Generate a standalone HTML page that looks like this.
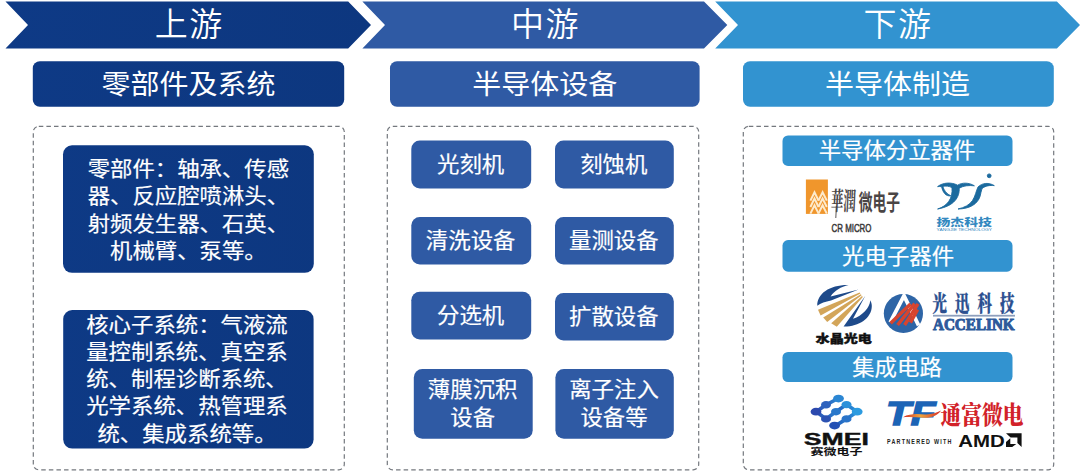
<!DOCTYPE html>
<html lang="zh-CN">
<head>
<meta charset="utf-8">
<title>半导体设备产业链</title>
<style>
*{box-sizing:border-box;margin:0;padding:0}
html,body{width:1080px;height:474px;overflow:hidden;background:#fff}
body{position:relative;font-family:"Liberation Sans","Noto Sans CJK SC",sans-serif;color:#fff}
#bg,#logos{position:absolute;left:0;top:0;width:1080px;height:474px}
.t{position:absolute;text-align:center;white-space:nowrap;transform-origin:50% 50%}
.ttl{font-weight:350}
.hdr{font-weight:400}
.b{font-weight:400;-webkit-text-stroke:0.2px #fff}
.sb{font-weight:400;-webkit-text-stroke:0.2px #fff}
</style>
</head>
<body>
<svg id="bg" viewBox="0 0 1080 474">
  <defs>
    <linearGradient id="g1" gradientUnits="userSpaceOnUse" x1="0" x2="380" y1="0" y2="0"><stop offset="0" stop-color="#0e3a86"/><stop offset="1" stop-color="#0d377f"/></linearGradient>
  </defs>
    <polygon points="5.5,1.4 348.2,1.4 371,25 348.2,48.5 5.5,48.5 28,25" fill="url(#g1)"/>
  <polygon points="362.4,1.4 704,1.4 727.3,25 704,48.5 362.4,48.5 385,25" fill="#2f5aa4"/>
  <polygon points="715.2,1.4 1056.9,1.4 1080,25 1056.9,48.5 715.2,48.5 738,25" fill="#3293d0"/>
  <rect x="32.8" y="61.3" width="311.4" height="45.5" rx="7" ry="7" fill="url(#g1)"/>
  <rect x="390" y="61.3" width="309.6" height="45.5" rx="7" ry="7" fill="#2f5aa4"/>
  <rect x="743" y="61.3" width="310.8" height="45.5" rx="7" ry="7" fill="#3293d0"/>
  <g fill="none" stroke="#74787e" stroke-width="1.2" stroke-dasharray="4.5 3.1">
    <rect x="33.3" y="126.3" width="311" height="343.5" rx="5.5" ry="5.5"/>
    <rect x="387.3" y="126.3" width="311.4" height="343.5" rx="5.5" ry="5.5"/>
    <rect x="743.3" y="126.3" width="310.4" height="343.5" rx="5.5" ry="5.5"/>
  </g>
  <rect x="63" y="145.3" width="250.8" height="127.5" rx="9" ry="9" fill="url(#g1)"/>
  <rect x="63.2" y="310" width="250.4" height="138.6" rx="9" ry="9" fill="url(#g1)"/>
  <rect x="411.3" y="140.5" width="119.9" height="48.0" rx="8.5" ry="8.5" fill="#2f5aa4"/>
  <rect x="555" y="140.5" width="118.8" height="48.0" rx="8.5" ry="8.5" fill="#2f5aa4"/>
  <rect x="411.3" y="217" width="119.9" height="47.4" rx="8.5" ry="8.5" fill="#2f5aa4"/>
  <rect x="555" y="217" width="118.8" height="47.4" rx="8.5" ry="8.5" fill="#2f5aa4"/>
  <rect x="411.3" y="291.8" width="119.9" height="47.6" rx="8.5" ry="8.5" fill="#2f5aa4"/>
  <rect x="555" y="293" width="118.8" height="47.5" rx="8.5" ry="8.5" fill="#2f5aa4"/>
  <rect x="413.8" y="369" width="118.9" height="69.8" rx="8.5" ry="8.5" fill="#2f5aa4"/>
  <rect x="555.4" y="369" width="118.4" height="69.8" rx="8.5" ry="8.5" fill="#2f5aa4"/>
  <rect x="782.5" y="135.5" width="230.0" height="30.4" rx="5.5" ry="5.5" fill="#3293d0"/>
  <rect x="782.5" y="240.1" width="230.0" height="31.6" rx="5.5" ry="5.5" fill="#3293d0"/>
  <rect x="782.5" y="352" width="230.0" height="30" rx="5.5" ry="5.5" fill="#3293d0"/>
</svg>
<div class="t ttl" style="left:-11px;top:3px;width:400px;height:43px;font-size:33px;line-height:43px;transform:translate(0.3px,0.2px) scaleY(1.0);letter-spacing:1.5px;">上游</div>
<div class="t ttl" style="left:345px;top:3px;width:400px;height:43px;font-size:33px;line-height:43px;transform:translate(0.6px,0.2px) scaleY(1.0);letter-spacing:1.5px;">中游</div>
<div class="t ttl" style="left:698px;top:3px;width:400px;height:43px;font-size:33px;line-height:43px;transform:translate(0.1px,0.2px) scaleY(1.0);letter-spacing:1.5px;">下游</div>
<div class="t hdr" style="left:-12px;top:65px;width:400px;height:38px;font-size:29px;line-height:38px;transform:translate(0.5px,0.7px) scaleY(0.96);letter-spacing:0px;">零部件及系统</div>
<div class="t hdr" style="left:344px;top:65px;width:400px;height:38px;font-size:29px;line-height:38px;transform:translate(0.8px,0.7px) scaleY(0.96);letter-spacing:0px;">半导体设备</div>
<div class="t hdr" style="left:697px;top:65px;width:400px;height:38px;font-size:29px;line-height:38px;transform:translate(0.5px,0.7px) scaleY(0.96);letter-spacing:0px;">半导体制造</div>
<div class="t b" style="left:-12px;top:151px;width:400px;height:117.2px;font-size:22.4px;line-height:29.3px;transform:translate(0.4px,0.2px) scaleY(0.935);">零部件：轴承、传感<br>器、反应腔喷淋头、<br>射频发生器、石英、<br>机械臂、泵等。</div>
<div class="t b" style="left:-13px;top:306px;width:400px;height:145.75px;font-size:22.4px;line-height:29.15px;transform:translate(0.0px,0.62px) scaleY(0.935);">核心子系统：气液流<br>量控制系统、真空系<br>统、制程诊断系统、<br>光学系统、热管理系<br>统、集成系统等。</div>
<div class="t b" style="left:270px;top:150px;width:400px;height:30px;font-size:22.4px;line-height:30px;transform:translate(0.65px,0.4px) scaleY(0.94);">光刻机</div>
<div class="t b" style="left:413px;top:150px;width:400px;height:30px;font-size:22.4px;line-height:30px;transform:translate(0.8px,0.4px) scaleY(0.94);">刻蚀机</div>
<div class="t b" style="left:270px;top:226px;width:400px;height:30px;font-size:22.4px;line-height:30px;transform:translate(0.65px,0.6px) scaleY(0.94);">清洗设备</div>
<div class="t b" style="left:413px;top:226px;width:400px;height:30px;font-size:22.4px;line-height:30px;transform:translate(0.8px,0.6px) scaleY(0.94);">量测设备</div>
<div class="t b" style="left:270px;top:301px;width:400px;height:30px;font-size:22.4px;line-height:30px;transform:translate(0.65px,0.5px) scaleY(0.94);">分选机</div>
<div class="t b" style="left:413px;top:302px;width:400px;height:30px;font-size:22.4px;line-height:30px;transform:translate(0.8px,0.65px) scaleY(0.94);">扩散设备</div>
<div class="t b" style="left:272px;top:374px;width:400px;height:58px;font-size:22.4px;line-height:29px;transform:translate(0.65px,0.9px) scaleY(0.94);">薄膜沉积<br>设备</div>
<div class="t b" style="left:413px;top:374px;width:400px;height:58px;font-size:22.4px;line-height:29px;transform:translate(1.0px,0.9px) scaleY(0.94);">离子注入<br>设备等</div>
<div class="t sb" style="left:697px;top:136px;width:400px;height:29px;font-size:22.4px;line-height:29px;transform:translate(0.0px,0.9px) scaleY(0.94);">半导体分立器件</div>
<div class="t sb" style="left:698px;top:242px;width:400px;height:29px;font-size:22.4px;line-height:29px;transform:translate(0.1px,0.1px) scaleY(0.94);">光电子器件</div>
<div class="t sb" style="left:697px;top:353px;width:400px;height:29px;font-size:22.4px;line-height:29px;transform:translate(0.0px,0.2px) scaleY(0.94);">集成电路</div>
<svg id="logos" viewBox="0 0 1080 474">
  <!-- CR MICRO -->
  <g>
    <rect x="805.9" y="179.5" width="22" height="34.4" fill="#f0962c"/>
    <g fill="none" stroke="#fdeacc" stroke-width="2" stroke-linejoin="miter">
      <polyline points="810.4,200.6 814.5,192.2 818.6,200.6"/>
      <polyline points="810.4,207 814.5,198.6 818.6,207"/>
      <polyline points="810.4,213.6 814.5,205.2 818.6,213.6"/>
      <polyline points="818.4,200.6 822.6,192.2 826.8,200.6"/>
      <polyline points="818.4,207 822.6,198.6 826.8,207"/>
      <polyline points="818.4,213.6 822.6,205.2 826.8,213.6"/>
    </g>
    <text transform="translate(830.6,209.8) scale(1,1.95) skewX(-5)" font-family="'Liberation Serif','Noto Serif CJK SC',serif" font-weight="700" font-size="13" fill="#4a4545" textLength="25" lengthAdjust="spacingAndGlyphs">華潤</text>
    <line x1="836.4" y1="206" x2="835.8" y2="218" stroke="#4a4545" stroke-width="0.9"/>
    <text transform="translate(858.8,209.9) scale(1,1.55)" font-family="'Liberation Sans','Noto Sans CJK SC',sans-serif" font-weight="700" font-size="14" fill="#4a4545" textLength="41.3" lengthAdjust="spacingAndGlyphs">微电子</text>
    <text x="831.6" y="232" font-family="'Liberation Sans',sans-serif" font-size="11.3" fill="#3a3838" stroke="#3a3838" stroke-width="0.5" textLength="39.8" lengthAdjust="spacingAndGlyphs">CR MICRO</text>
  </g>
  <!-- YANGJIE -->
  <g fill="#1b6a9e" stroke="#1b6a9e" stroke-width="0.9" stroke-linejoin="round">
    <circle cx="989.2" cy="175.8" r="1.9"/>
    <path d="M937.6,186.6 C943,182.3 951.5,182 957.6,185.2 C962,182.4 969,182.4 974.4,185.8 C969,185.2 963.5,185.6 959.2,188.2 C959.6,197 954.5,206 937.6,209 C947.5,206 953,198.5 952,187.6 C949,186 945.5,185.8 942.8,186.4 C943.8,190 946.5,194 950.8,195.8 C946,196.6 942.8,192.6 941.6,186.7 C940.2,186.5 939,186.5 937.6,186.6 Z"/>
    <path d="M994.3,185.6 C989,182.4 982.5,182.6 978,187 C976,191 975.5,196 972.5,200.5 C969.5,205 964.5,207.5 958,209 C970,208.8 977.5,204 980,196.5 C981,193.5 981,191 982,188.6 C985.5,185.6 990,185.2 994.3,185.6 Z"/>
    <text x="936.5" y="226" font-family="'Liberation Sans','Noto Sans CJK SC',sans-serif" font-weight="900" font-size="10" fill="#3489c0" stroke="none" textLength="55.5" lengthAdjust="spacingAndGlyphs">扬杰科技</text>
    <text x="936.6" y="231.3" font-family="'Liberation Sans',sans-serif" font-size="4.2" fill="#2f85bd" stroke="none" textLength="55.4" lengthAdjust="spacingAndGlyphs">YANGJIE TECHNOLOGY</text>
  </g>
  <!-- Crystal-Optech -->
  <g>
    <path d="M817.3,305.8 C817,293.5 830,284.6 848.6,285 C841,286.8 834.5,290.5 830.6,296.4 L858.6,289.4 L831,300.6 C825.5,301.6 820.5,303.4 817.3,305.8 Z" fill="#1e4a8a"/>
    <g fill="#d3a559">
      <polygon points="859.6,292.4 860.4,293.6 820.6,315.6 818,309.8"/>
      <polygon points="860.8,294.2 861.6,295.3 827.2,321.9 823.2,317.6"/>
      <polygon points="862,296 862.8,297 836.8,326.7 831.2,323.2"/>
    </g>
    <path d="M865.2,296 L843.6,326.6 C858,327 871.8,318.5 871.8,306 C871.8,304 871.2,302 870.3,300.2 C869.6,308 862.5,315.5 853,318.8 Z" fill="#1e4a8a"/>
    <text x="815.8" y="342.9" font-family="'Liberation Sans','Noto Sans CJK SC',sans-serif" font-weight="900" font-size="11.5" fill="#111" stroke="#111" stroke-width="0.45" textLength="56" lengthAdjust="spacingAndGlyphs">水晶光电</text>
  </g>
  <!-- Accelink -->
  <g>
    <circle cx="903.4" cy="313.5" r="19.6" fill="#2e65a6"/>
    <path d="M890.2,322.3 L904,295.8 L918.6,325.4" fill="none" stroke="#fff" stroke-width="3.8" stroke-linejoin="miter"/>
    <g stroke="#d8442e" stroke-width="3.4" fill="none">
      <line x1="890.6" y1="323.2" x2="910.5" y2="304"/>
      <line x1="897.6" y1="325" x2="914.6" y2="303.6"/>
      <line x1="904.6" y1="325" x2="918" y2="303.8"/>
      <line x1="910.4" y1="322.6" x2="917.6" y2="309.6"/>
    </g>
    <text transform="translate(932.4,310.6) scale(0.74,1.1)" font-family="'Liberation Serif','Noto Serif CJK SC',serif" font-weight="900" font-size="19.5" fill="#2b4f90" stroke="#2b4f90" stroke-width="0.3" letter-spacing="11">光迅科技</text>
    <rect x="933" y="314.8" width="82" height="1.8" fill="#8e9fbd"/>
    <text x="933" y="329.8" font-family="'Liberation Serif',serif" font-weight="700" font-size="16" fill="#2d5a9b" stroke="#2d5a9b" stroke-width="1" textLength="81.6" lengthAdjust="spacingAndGlyphs">ACCELINK</text>
  </g>
  <!-- SMEI -->
  <g>
    <defs>
      <linearGradient id="sm1" gradientUnits="userSpaceOnUse" x1="812" x2="840" y1="0" y2="0"><stop offset="0" stop-color="#2c4bb0"/><stop offset="1" stop-color="#2b86d3"/></linearGradient>
      <linearGradient id="sm2" gradientUnits="userSpaceOnUse" x1="832" x2="862" y1="0" y2="0"><stop offset="0" stop-color="#2157b8"/><stop offset="1" stop-color="#2c9be0"/></linearGradient>
    </defs>
    <g fill="none" stroke-linecap="round" stroke-linejoin="round" stroke-width="3.6">
      <polyline points="838,398.5 826,404.8 816.3,411.7 826,418.9 836,411.7" stroke="url(#sm1)"/>
      <polyline points="835,426 846.5,418.9 857.2,411.7 846.5,404.6 836,411.7" stroke="url(#sm2)"/>
    </g>
    <g>
      <ellipse cx="838.5" cy="398.6" rx="5.4" ry="3.9" fill="#2b86d3"/>
      <ellipse cx="826" cy="404.8" rx="5" ry="3.7" fill="#2d62bd"/>
      <ellipse cx="816" cy="411.7" rx="5.4" ry="3.9" fill="#2c49ae"/>
      <ellipse cx="826" cy="418.9" rx="5" ry="3.7" fill="#2c52b2"/>
      <ellipse cx="836" cy="411.7" rx="5" ry="3.7" fill="#2a78cb"/>
      <ellipse cx="846.5" cy="404.6" rx="5" ry="3.7" fill="#2b90da"/>
      <ellipse cx="857.2" cy="411.7" rx="5.4" ry="3.9" fill="#2c9be0"/>
      <ellipse cx="846.5" cy="418.9" rx="5" ry="3.7" fill="#2a74c9"/>
      <ellipse cx="834.6" cy="425.6" rx="5.4" ry="3.9" fill="#2350b4"/>
    </g>
    <text x="803.8" y="444.7" font-family="'Liberation Sans',sans-serif" font-weight="700" font-size="16.6" fill="#111" stroke="#111" stroke-width="0.4" textLength="65" lengthAdjust="spacingAndGlyphs">SMEI</text>
    <text x="810.6" y="454.9" font-family="'Liberation Sans','Noto Sans CJK SC',sans-serif" font-weight="700" font-size="9.5" fill="#111" textLength="52" lengthAdjust="spacingAndGlyphs">赛微电子</text>
  </g>
  <!-- TF -->
  <g>
    <defs>
      <linearGradient id="tf1" x1="0" x2="1" y1="0" y2="0"><stop offset="0" stop-color="#d52b27"/><stop offset="0.45" stop-color="#f0a43a"/><stop offset="1" stop-color="#d52b27"/></linearGradient>
    </defs>
    <text x="886" y="425.3" font-family="'Liberation Sans',sans-serif" font-weight="700" font-style="italic" font-size="33.5" fill="#1c64b6" stroke="#1c64b6" stroke-width="1.5" textLength="49.5" lengthAdjust="spacingAndGlyphs">TF</text>
    <path d="M903,417.2 C910,413 918,414 925,414.4 C931,414.8 936,413 941.2,410.6 C937,416 931,418.2 924,417.8 C917,417.4 910,416.4 903,417.2 Z" fill="url(#tf1)"/>
    <text transform="translate(940.5,423.6) scale(1,1.14)" font-family="'Liberation Serif','Noto Serif CJK SC',serif" font-weight="900" font-size="22" fill="#d22229" textLength="83" lengthAdjust="spacingAndGlyphs">通富微电</text>
    <text transform="translate(887,444.3) scale(0.7,1)" font-family="'Liberation Sans',sans-serif" font-weight="700" font-size="7.7" fill="#222" textLength="92" lengthAdjust="spacing">PARTNERED WITH</text>
    <text x="958.3" y="446.6" font-family="'Liberation Sans',sans-serif" font-weight="700" font-size="17" fill="#111" textLength="46.5" lengthAdjust="spacingAndGlyphs">AMD</text>
    <path d="M1006,433.2 L1021.6,433.2 L1021.6,447 L1017.4,442.9 L1017.4,437.4 L1010.6,437.4 Z M1010.3,438.3 L1010.3,444 L1016.3,444 L1012.2,447 L1006,447 L1006,442 Z" fill="#111"/>
  </g>
</svg>

</body>
</html>
